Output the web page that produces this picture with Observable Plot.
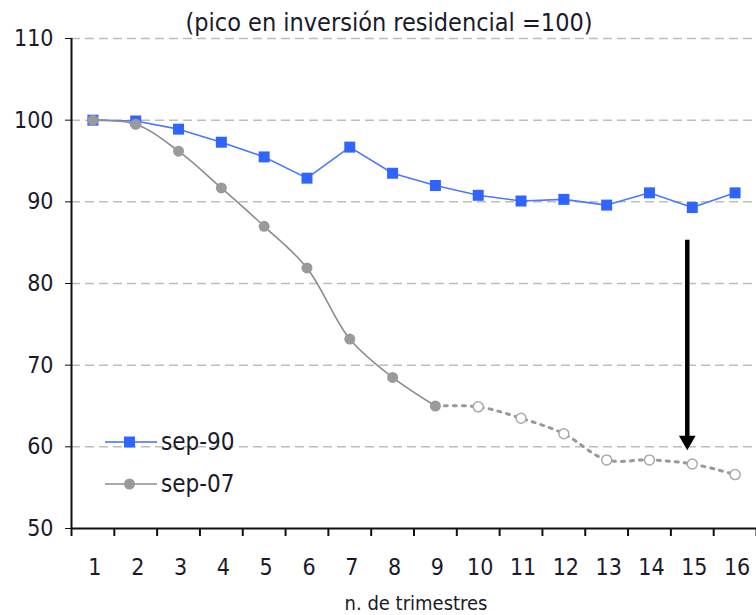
<!DOCTYPE html>
<html>
<head>
<meta charset="utf-8">
<script src="https://cdn.jsdelivr.net/npm/d3@7"></script>
<script src="https://cdn.jsdelivr.net/npm/@observablehq/plot@0.6"></script>
<style>
  html, body { margin: 0; padding: 0; background: #fff; }
  #wrap { position: relative; width: 756px; height: 615px; font-family: "DejaVu Sans Condensed", "DejaVu Sans", sans-serif; font-stretch: condensed; color: #1a1a2a; }
  #title { position: absolute; left: 0; width: 778px; top: 8px; text-align: center; font-size: 25px; }
  .leg { position: absolute; left: 104px; height: 30px; display: flex; align-items: center; font-size: 24px; }
  .leg svg { margin-right: 3px; }
</style>
</head>
<body>
<div id="wrap">
  <div id="chart"></div>
  <div id="title">(pico en inversión residencial =100)</div>
  <div class="leg" style="top:427px;"><svg width="54" height="14"><line x1="1" y1="7" x2="53" y2="7" stroke="#3b6cff" stroke-width="1.6"/><rect x="20" y="1.5" width="11" height="11" fill="#2f64ff"/></svg><span>sep-90</span></div>
  <div class="leg" style="top:469px;"><svg width="54" height="14"><line x1="1" y1="7" x2="53" y2="7" stroke="#8c8c8c" stroke-width="1.6"/><circle cx="25.5" cy="7" r="5.5" fill="#9a9a9a"/></svg><span>sep-07</span></div>
</div>
<script>
// Data
const quarters = [1, 2, 3, 4, 5, 6, 7, 8, 9, 10, 11, 12, 13, 14, 15, 16];
const sep90 = [100, 99.9, 98.9, 97.3, 95.5, 92.9, 96.7, 93.5, 92.0, 90.8, 90.1, 90.3, 89.6, 91.1, 89.3, 91.1];
const sep07 = [100, 99.5, 96.2, 91.7, 87.0, 81.9, 73.2, 68.5, 65.0, 64.9, 63.5, 61.6, 58.4, 58.4, 57.9, 56.6];
const lastObservedQuarter = 9;
const yTicks = [50, 60, 70, 80, 90, 100, 110];
const gridValues = [60, 70, 80, 90, 100, 110];
const arrowQuarter = [15];
const arrowFrom = [85.3];
const arrowTo = [59.6];

const rows90 = quarters.map((q, i) => ({q, v: sep90[i]}));
const rows07 = quarters.map((q, i) => ({q, v: sep07[i]}));
const observed07 = rows07.filter(d => d.q <= lastObservedQuarter);
const projected07 = rows07.filter(d => d.q >= lastObservedQuarter);
const projectedOnly07 = rows07.filter(d => d.q > lastObservedQuarter);
const boundaries = quarters.map(q => q - 0.5).concat([quarters[quarters.length - 1] + 0.5]);
const arrows = arrowQuarter.map((q, i) => ({q, from: arrowFrom[i], to: arrowTo[i]}));

const font = '"DejaVu Sans Condensed", "DejaVu Sans", sans-serif';

const chart = Plot.plot({
  width: 756,
  height: 615,
  marginLeft: 71,
  marginRight: 0,
  marginTop: 38,
  marginBottom: 87,
  style: {fontFamily: font, color: "#1a1a2a", background: "#fff", overflow: "visible"},
  x: {domain: [0.5, 16.5], axis: null},
  y: {domain: [50, 110], axis: null},
  marks: [
    Plot.ruleY(gridValues, {stroke: "#bdbdbd", strokeWidth: 1.5, strokeDasharray: "9,5"}),
    Plot.ruleY([50], {stroke: "#111", strokeWidth: 2}),
    Plot.ruleX([0.5], {stroke: "#111", strokeWidth: 2}),
    Plot.axisY({ticks: yTicks, tickSize: 6, tickPadding: 12, fontSize: 23, tickFormat: d => String(d), label: null, stroke: "#111"}),
    Plot.axisX({ticks: boundaries, tickSize: 8, tickFormat: () => "", label: null, strokeWidth: 2, stroke: "#111"}),
    Plot.axisX({ticks: quarters, tickSize: 0, tickPadding: 30, fontSize: 23, dx: 2, tickFormat: d => String(d), label: null}),
    Plot.text(["n. de trimestres"], {frameAnchor: "bottom", dy: 81, dx: 2, fontSize: 20}),
    // sep-90 series
    Plot.line(rows90, {x: "q", y: "v", stroke: "#4a78ff", strokeWidth: 1.6}),
    Plot.dot(rows90, {x: "q", y: "v", symbol: "square", r: 6.2, fill: "#2f64ff"}),
    // sep-07 series
    Plot.line(observed07, {x: "q", y: "v", stroke: "#8c8c8c", strokeWidth: 1.6, curve: "catmull-rom"}),
    Plot.line(projected07, {x: "q", y: "v", stroke: "#999", strokeWidth: 3, strokeDasharray: "3,6", curve: "catmull-rom"}),
    Plot.dot(observed07, {x: "q", y: "v", r: 5.5, fill: "#9a9a9a"}),
    Plot.dot(projectedOnly07, {x: "q", y: "v", r: 5, fill: "#fff", stroke: "#aaa", strokeWidth: 1.5}),
    // annotation arrow: shaft + filled head
    Plot.ruleX(arrows, {x: "q", y1: "from", y2: "to", dx: -5, stroke: "#000", strokeWidth: 4.5, insetBottom: 10}),
    Plot.dot(arrows, {x: "q", y: "to", dx: -5, dy: -9.6, symbol: "triangle", rotate: 180, r: 6.2, fill: "#000"})
  ]
});
document.getElementById("chart").appendChild(chart);
</script>
</body>
</html>
